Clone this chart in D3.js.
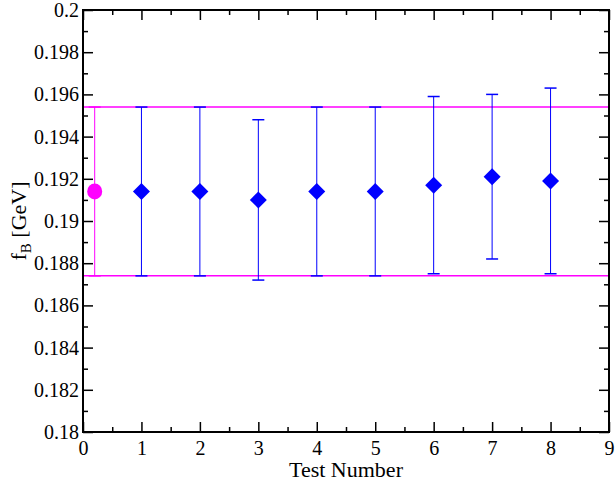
<!DOCTYPE html>
<html><head><meta charset="utf-8">
<script src="https://cdn.jsdelivr.net/npm/d3@7"></script>
<style>body{margin:0;background:#fff}svg{display:block}</style>
</head><body>
<script>
// Data
const tests = [1, 2, 3, 4, 5, 6, 7, 8];
const values = [0.1914, 0.1914, 0.1910, 0.1914, 0.1914, 0.1917, 0.1921, 0.1919];
const errLow = [0.1874, 0.1874, 0.1872, 0.1874, 0.1874, 0.1875, 0.1882, 0.1875];
const errHigh = [0.1954, 0.1954, 0.1948, 0.1954, 0.1954, 0.1959, 0.1960, 0.1963];
const refX = [0.2];
const refValue = [0.1914];
const refLow = [0.1874];
const refHigh = [0.1954];
const xTicks = [0, 1, 2, 3, 4, 5, 6, 7, 8, 9];
const yTicks = [0.18, 0.182, 0.184, 0.186, 0.188, 0.19, 0.192, 0.194, 0.196, 0.198, 0.2];
const yTickLabels = ["0.18", "0.182", "0.184", "0.186", "0.188", "0.19", "0.192", "0.194", "0.196", "0.198", "0.2"];

const W = 615, H = 485;
const L = 83, R = 609, T = 10, B = 432;
const svg = d3.select("body").append("svg").attr("width", W).attr("height", H);
const x = d3.scaleLinear().domain([0, 9]).range([L, R]);
const y = d3.scaleLinear().domain([0.18, 0.2]).range([B, T]);
const font = "'Liberation Serif', 'Times New Roman', serif";

const xMinor = d3.range(0.5, 9, 1);
const yMinor = d3.range(0, 10).map(i => 0.181 + i * 0.002);

// axes with inward ticks
function styleAxis(g) {
  g.selectAll(".domain").remove();
  g.selectAll(".tick line").attr("stroke", "#000").attr("stroke-width", 1.5);
}
const xb = svg.append("g").attr("transform", `translate(0,${B})`)
  .call(d3.axisBottom(x).tickValues(xTicks).tickSize(-10).tickPadding(6).tickFormat(d3.format("d")));
styleAxis(xb);
xb.selectAll("text").attr("font-family", font).attr("font-size", 20).attr("fill", "#000").attr("dy", "0.71em").attr("y", 9);
svg.append("g").attr("transform", `translate(0,${B})`).call(d3.axisBottom(x).tickValues(xMinor).tickSize(-5).tickFormat("")).call(styleAxis);
svg.append("g").attr("transform", `translate(0,${T})`).call(d3.axisTop(x).tickValues(xTicks).tickSize(-10).tickFormat("")).call(styleAxis);
svg.append("g").attr("transform", `translate(0,${T})`).call(d3.axisTop(x).tickValues(xMinor).tickSize(-5).tickFormat("")).call(styleAxis);

const yl = svg.append("g").attr("transform", `translate(${L},0)`)
  .call(d3.axisLeft(y).tickValues(yTicks).tickSize(-10).tickPadding(5).tickFormat((d, i) => yTickLabels[i]));
styleAxis(yl);
yl.selectAll("text").attr("font-family", font).attr("font-size", 20).attr("fill", "#000").attr("x", -4);
svg.append("g").attr("transform", `translate(${L},0)`).call(d3.axisLeft(y).tickValues(yMinor).tickSize(-5).tickFormat("")).call(styleAxis);
svg.append("g").attr("transform", `translate(${R},0)`).call(d3.axisRight(y).tickValues(yTicks).tickSize(-10).tickFormat("")).call(styleAxis);
svg.append("g").attr("transform", `translate(${R},0)`).call(d3.axisRight(y).tickValues(yMinor).tickSize(-5).tickFormat("")).call(styleAxis);

// reference band lines
const mag = "#ff00ff";
[refLow[0], refHigh[0]].forEach(v => {
  svg.append("line").attr("x1", L).attr("x2", R).attr("y1", y(v)).attr("y2", y(v))
    .attr("stroke", mag).attr("stroke-width", 1.5);
});

// reference point
refX.forEach((xv, i) => {
  svg.append("line").attr("x1", x(xv)).attr("x2", x(xv)).attr("y1", y(refLow[i])).attr("y2", y(refHigh[i]))
    .attr("stroke", mag).attr("stroke-width", 1);
  svg.append("line").attr("x1", x(xv) - 6).attr("x2", x(xv) + 6).attr("y1", y(refLow[i])).attr("y2", y(refLow[i])).attr("stroke", mag).attr("stroke-width", 1.5);
  svg.append("line").attr("x1", x(xv) - 6).attr("x2", x(xv) + 6).attr("y1", y(refHigh[i])).attr("y2", y(refHigh[i])).attr("stroke", mag).attr("stroke-width", 1.5);
  svg.append("ellipse").attr("cx", x(xv)).attr("cy", y(refValue[i])).attr("rx", 7.5).attr("ry", 8).attr("fill", mag);
});

// error bars
const blue = "#0000ff";
const eb = svg.append("g");
tests.forEach((t, i) => {
  const cx = x(t);
  eb.append("line").attr("x1", cx).attr("x2", cx).attr("y1", y(errLow[i])).attr("y2", y(errHigh[i])).attr("stroke", blue).attr("stroke-width", 1);
  [errLow[i], errHigh[i]].forEach(v => {
    eb.append("line").attr("x1", cx - 6).attr("x2", cx + 6).attr("y1", y(v)).attr("y2", y(v)).attr("stroke", blue).attr("stroke-width", 1.5);
  });
  const cy = y(values[i]), s = 8.5;
  eb.append("path").attr("d", `M${cx},${cy - s}L${cx + s},${cy}L${cx},${cy + s}L${cx - s},${cy}Z`).attr("fill", blue);
});

// frame
svg.append("rect").attr("x", L).attr("y", T).attr("width", R - L).attr("height", B - T)
  .attr("fill", "none").attr("stroke", "#000").attr("stroke-width", 2);

// titles
svg.append("text").attr("x", (L + R) / 2).attr("y", 477).attr("text-anchor", "middle")
  .attr("font-family", font).attr("font-size", 22).attr("fill", "#000").text("Test Number");
const yt = svg.append("text").attr("transform", `translate(26,${(T + B) / 2}) rotate(-90)`).attr("text-anchor", "middle")
  .attr("font-family", font).attr("font-size", 22).attr("fill", "#000");
yt.append("tspan").text("f");
yt.append("tspan").attr("font-size", 15).attr("dy", 5).text("B");
yt.append("tspan").attr("dy", -5).text(" [GeV]");
</script>
</body></html>
